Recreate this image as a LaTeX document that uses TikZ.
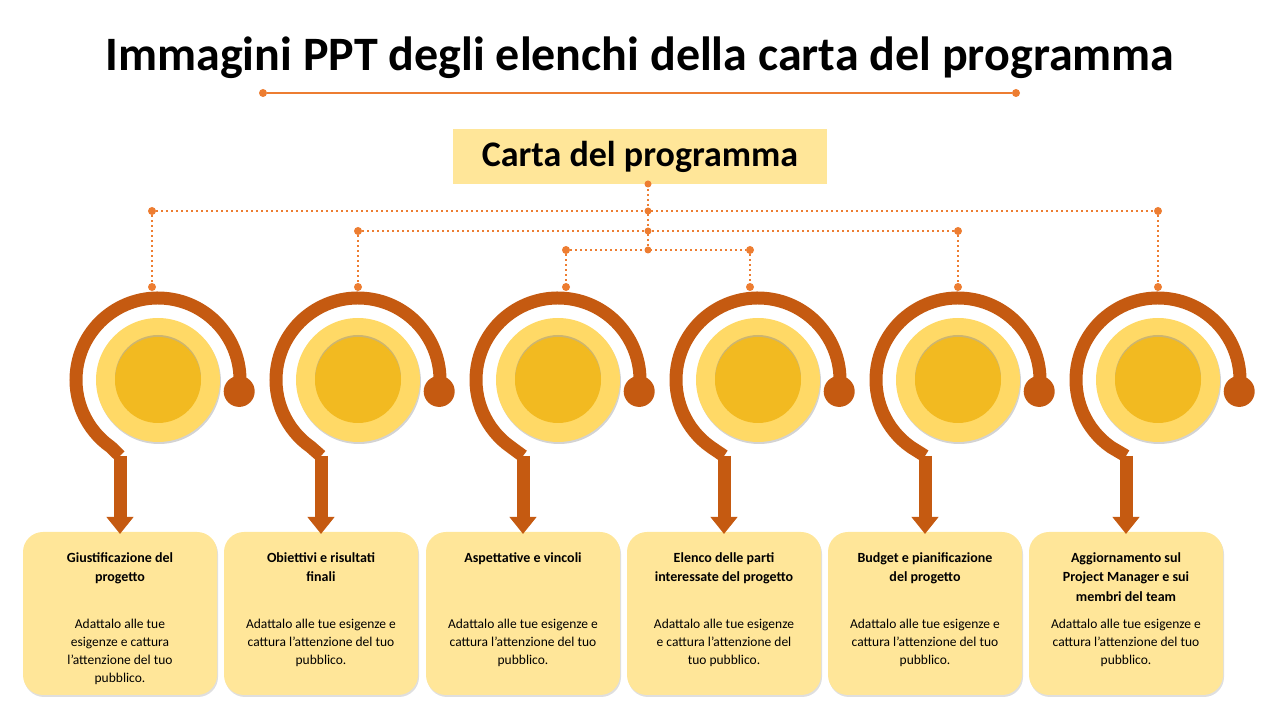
\documentclass[tikz,border=0pt]{standalone}
\usepackage{fontspec}
\setmainfont{Carlito}
\usetikzlibrary{arrows.meta,shadows}
\definecolor{dorange}{HTML}{C55A11}
\definecolor{lorange}{HTML}{ED7D31}
\definecolor{lyellow}{HTML}{FFD966}
\definecolor{gold}{HTML}{F2BA21}
\definecolor{boxy}{HTML}{FFE699}
\begin{document}
\begin{tikzpicture}[x=1pt,y=1pt,
  dot/.style={circle,fill=lorange,inner sep=0pt,minimum size=8pt},
  dotline/.style={lorange,line width=2.2pt,dash pattern=on 2pt off 3pt},
  ring/.style={dorange,line width=13pt},
  outerc/.style={circle,fill=lyellow,minimum size=124pt,inner sep=0pt,drop shadow={opacity=0.35,shadow xshift=1pt,shadow yshift=-2pt}},
  innerc/.style={circle,fill=gold,minimum size=86pt,inner sep=0pt,drop shadow={opacity=0.4,shadow xshift=0pt,shadow yshift=2pt}},
  card/.style={rounded corners=20pt,fill=boxy,minimum width=194pt,minimum height=163pt,inner sep=0pt,drop shadow={opacity=0.25,shadow xshift=1pt,shadow yshift=-2pt}},
  ttl/.style={font=\bfseries\fontsize{14}{19.5}\selectfont,align=center},
  bod/.style={font=\fontsize{13.5}{18}\selectfont,align=center}]
\useasboundingbox (0,0) rectangle (1280,720);
\node (title) at (640,662) {\bfseries\fontsize{48}{54}\selectfont Immagini PPT degli elenchi della carta del programma};
\node[dot] (ta) at (263,627) {}; \node[dot] (tb) at (1016,627) {};
\draw[lorange,line width=2.5pt] (ta) -- (tb);
\node[fill=boxy,minimum width=374pt,minimum height=55pt] (hdr) at (640,563.5) {\bfseries\fontsize{36}{40}\selectfont Carta del programma};
% dotted tree
\coordinate (t0) at (648,536);
\node[dot,minimum size=7pt] (j1) at (648,509) {};
\node[dot,minimum size=7pt] (j2) at (648,489) {};
\node[dot,minimum size=7pt] (j3) at (648,470) {};
\node[dot,minimum size=7pt] (t0d) at (648,536) {};
\draw[dotline] (t0) -- (j3);
\foreach \x/\lev/\n in {152/509/a,358/489/b,566/470/c,750/470/d,958/489/e,1158/509/f}{
  \node[dot,minimum size=8pt] (u\n) at (\x,\lev) {};
  \node[dot,minimum size=8pt] (l\n) at (\x,433) {};
  \draw[dotline] (u\n) -- (l\n);
}
\draw[dotline] (ua) -- (uf);
\draw[dotline] (ub) -- (ue);
\draw[dotline] (uc) -- (ud);
% elements
\foreach \cx/\bx/\n/\t/\b in {
 158/120/1/{Giustificazione del\\progetto}/{Adattalo alle tue\\esigenze e cattura\\l'attenzione del tuo\\pubblico.},
 358/321/2/{Obiettivi e risultati\\finali}/{Adattalo alle tue esigenze e\\cattura l'attenzione del tuo\\pubblico.},
 558/523/3/{Aspettative e vincoli}/{Adattalo alle tue esigenze e\\cattura l'attenzione del tuo\\pubblico.},
 758/724/4/{Elenco delle parti\\interessate del progetto}/{Adattalo alle tue esigenze\\e cattura l'attenzione del\\tuo pubblico.},
 958/925/5/{Budget e pianificazione\\del progetto}/{Adattalo alle tue esigenze e\\cattura l'attenzione del tuo\\pubblico.},
 1158/1126/6/{Aggiornamento sul\\Project Manager e sui\\membri del team}/{Adattalo alle tue esigenze e\\cattura l'attenzione del tuo\\pubblico.}}{
  \node[card] (card\n) at (\bx,106.5) {};
  \node[ttl,anchor=north] (ct\n) at (\bx,171) {\t};
  \node[bod,anchor=north] (cb\n) at (\bx,104) {\b};
  \node[outerc] (oc\n) at (\cx,340) {};
  \node[innerc] (ic\n) at (\cx,340) {};
  \coordinate (bend\n) at (\bx,264);
  \coordinate (tip\n) at (\bx,186);
  \draw[ring] ([shift={(-8:82)}]\cx,340) arc[start angle=-8,end angle=235,radius=82] -- (bend\n);
  \draw[ring,-{Triangle[width=26pt,length=17pt]}] (bend\n) -- (tip\n);
  \node[circle,fill=dorange,minimum size=31pt,inner sep=0pt] (kn\n) at ([shift={(-8:82)}]\cx,340) {};
}
\end{tikzpicture}
\end{document}
